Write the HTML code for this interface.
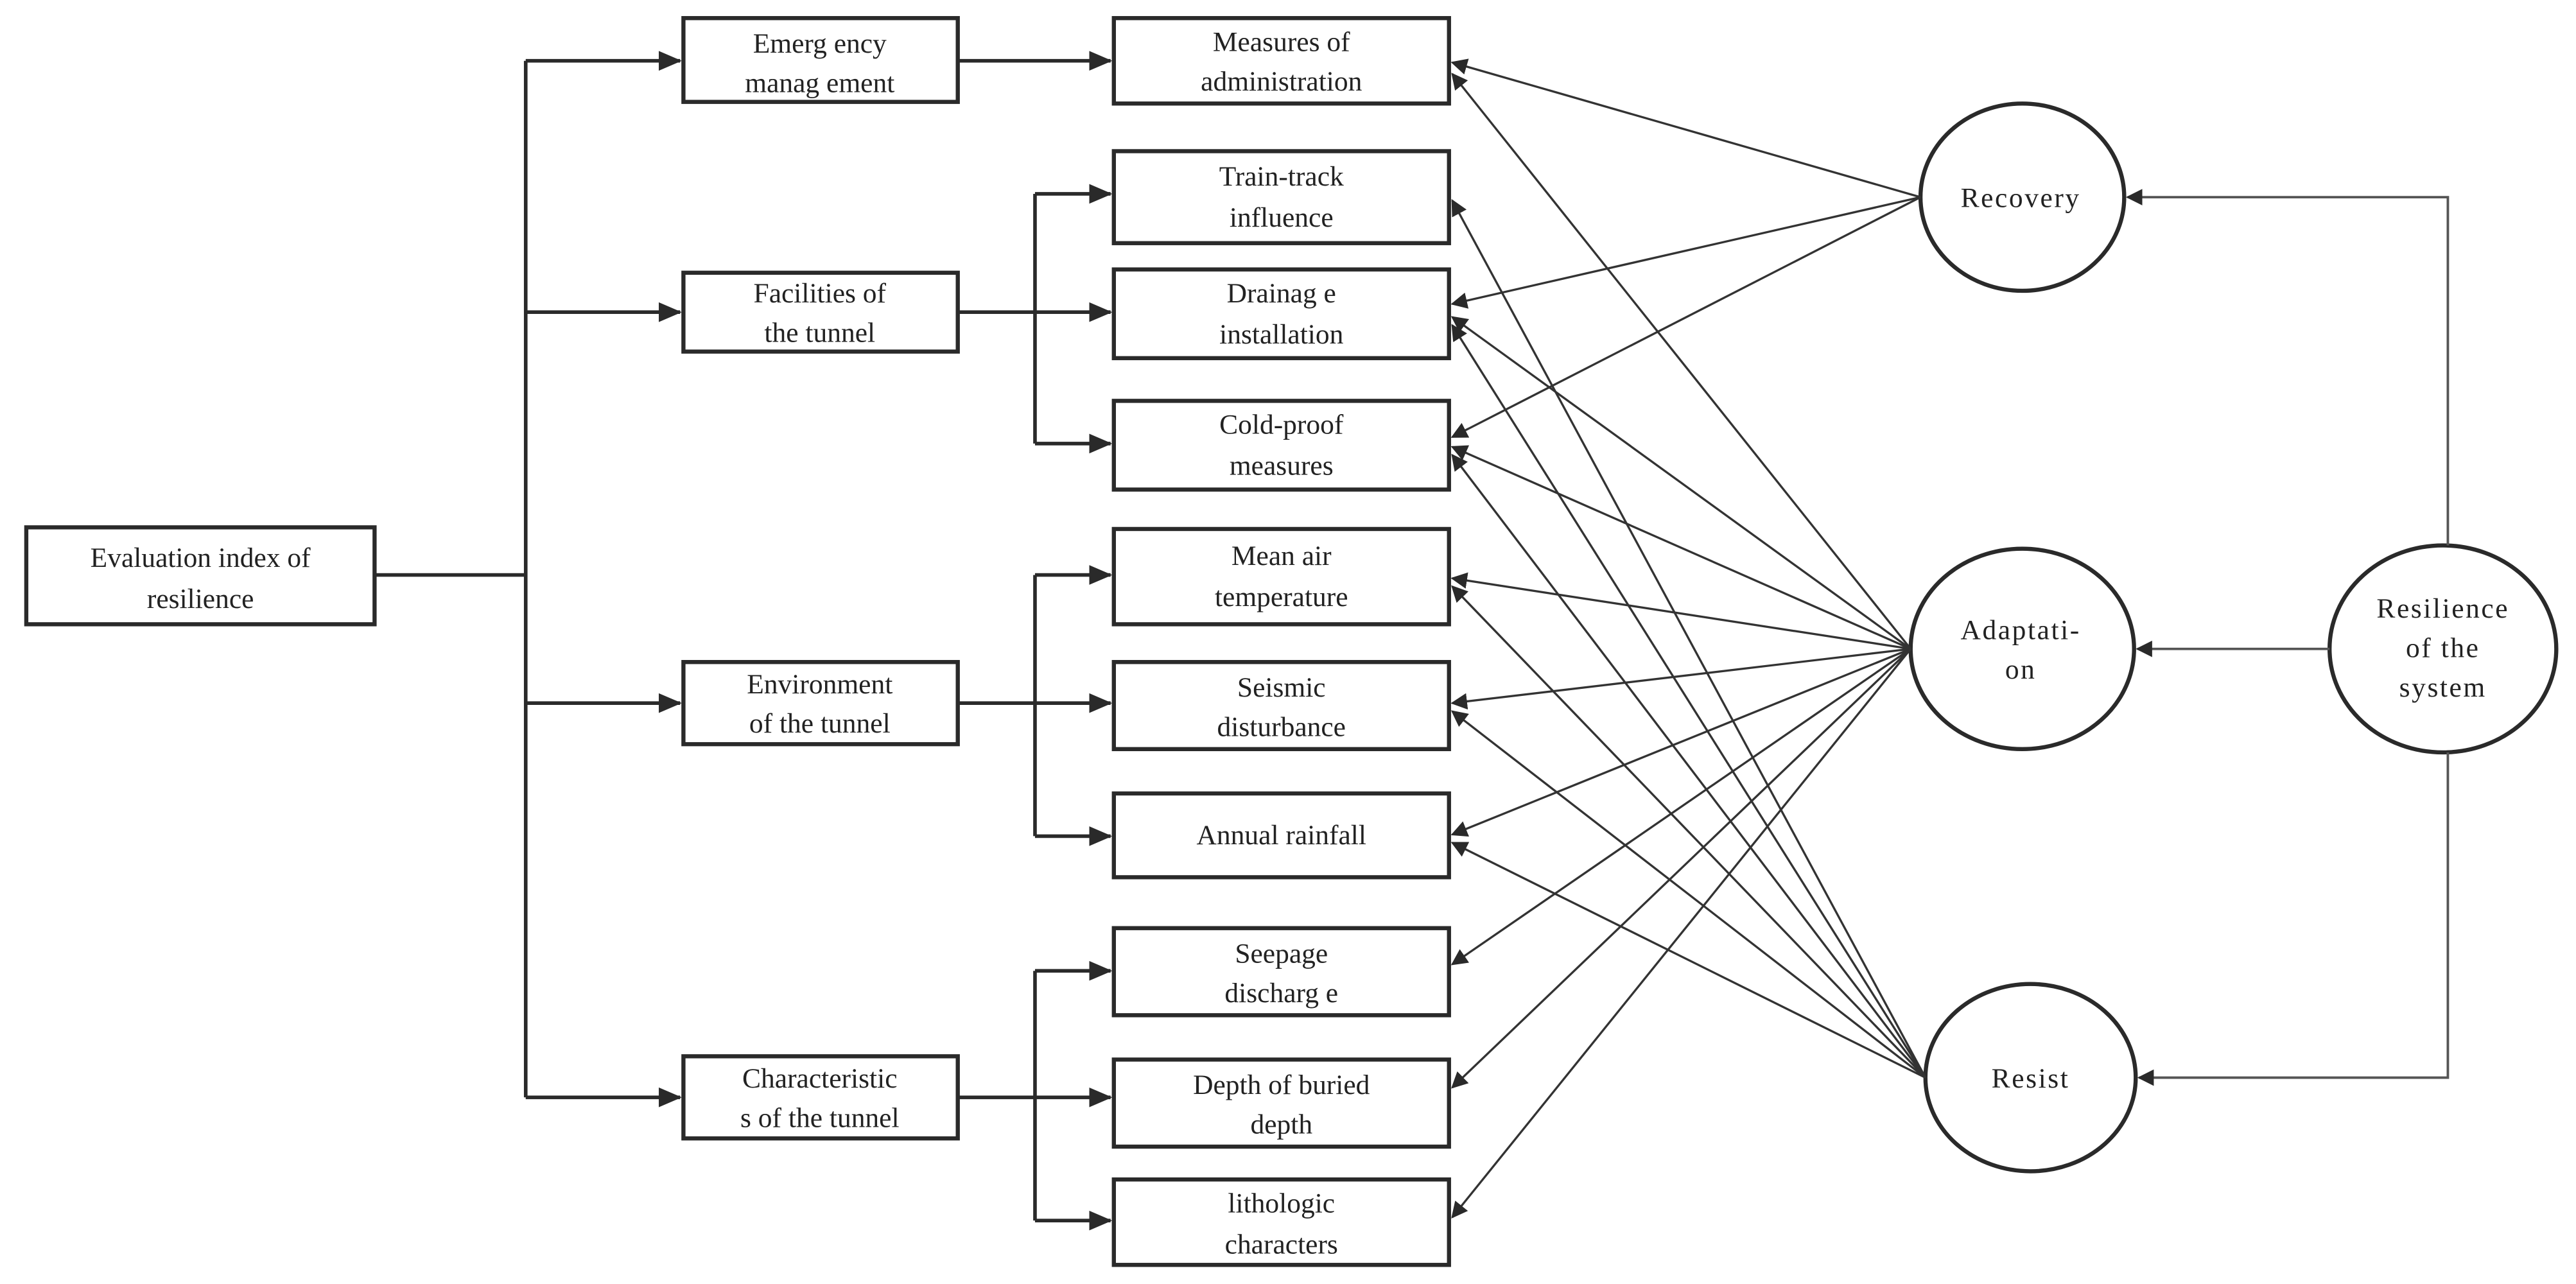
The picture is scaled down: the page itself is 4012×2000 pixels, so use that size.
<!DOCTYPE html>
<html><head><meta charset="utf-8"><style>
html,body{margin:0;padding:0;background:#fff;}
svg{display:block;}
text{font-family:"Liberation Serif",serif;fill:#222;}
</style></head><body>
<svg width="4012" height="2000" viewBox="0 0 1568 781.6" xmlns="http://www.w3.org/2000/svg">
<defs>
<marker id="a" markerWidth="10" markerHeight="10" refX="9" refY="5" orient="auto" markerUnits="userSpaceOnUse"><path d="M0,0 L10,5 L0,10 z" fill="#2a2a2a"/></marker>
<marker id="b" markerWidth="14" markerHeight="14" refX="13" refY="7" orient="auto" markerUnits="userSpaceOnUse"><path d="M0,1 L14,7 L0,13 z" fill="#2a2a2a"/></marker>
</defs>
<g stroke="#2a2a2a" stroke-width="2.5" fill="none">
<rect x="16" y="321" width="212" height="59"/>
<rect x="416" y="11" width="167" height="51"/>
<rect x="416" y="166" width="167" height="48"/>
<rect x="416" y="403" width="167" height="50"/>
<rect x="416" y="643" width="167" height="50"/>
<rect x="678" y="11" width="204" height="52"/>
<rect x="678" y="92" width="204" height="56"/>
<rect x="678" y="164" width="204" height="54"/>
<rect x="678" y="244" width="204" height="54"/>
<rect x="678" y="322" width="204" height="58"/>
<rect x="678" y="403" width="204" height="53"/>
<rect x="678" y="483" width="204" height="51"/>
<rect x="678" y="565" width="204" height="53"/>
<rect x="678" y="645" width="204" height="53"/>
<rect x="678" y="718" width="204" height="52"/>
<ellipse cx="1231" cy="120" rx="62" ry="57"/>
<ellipse cx="1231" cy="395" rx="68" ry="61"/>
<ellipse cx="1236" cy="656" rx="64" ry="57"/>
<ellipse cx="1487" cy="395" rx="69" ry="63"/>
</g>
<g stroke="#2a2a2a" stroke-width="2.2" fill="none">
<path d="M228,350 H320"/>
<path d="M320,37 V668"/>
<path d="M320,37 H414" marker-end="url(#b)"/>
<path d="M320,190 H414" marker-end="url(#b)"/>
<path d="M320,428 H414" marker-end="url(#b)"/>
<path d="M320,668 H414" marker-end="url(#b)"/>
<path d="M583,37 H676" marker-end="url(#b)"/>
<path d="M583,190 H676" marker-end="url(#b)"/>
<path d="M630,118 V270"/>
<path d="M630,118 H676" marker-end="url(#b)"/>
<path d="M630,270 H676" marker-end="url(#b)"/>
<path d="M583,428 H676" marker-end="url(#b)"/>
<path d="M630,350 V509"/>
<path d="M630,350 H676" marker-end="url(#b)"/>
<path d="M630,509 H676" marker-end="url(#b)"/>
<path d="M583,668 H676" marker-end="url(#b)"/>
<path d="M630,591 V743"/>
<path d="M630,591 H676" marker-end="url(#b)"/>
<path d="M630,743 H676" marker-end="url(#b)"/>
</g>
<g stroke="#333" stroke-width="1.3" fill="none">
<!-- Recovery -->
<line x1="1169" y1="120" x2="884" y2="38" marker-end="url(#a)"/>
<line x1="1169" y1="120" x2="884" y2="185" marker-end="url(#a)"/>
<line x1="1169" y1="120" x2="884" y2="266" marker-end="url(#a)"/>
<!-- Adaptation -->
<line x1="1163" y1="395" x2="884" y2="45" marker-end="url(#a)"/>
<line x1="1163" y1="395" x2="884" y2="193" marker-end="url(#a)"/>
<line x1="1163" y1="395" x2="884" y2="272" marker-end="url(#a)"/>
<line x1="1163" y1="395" x2="884" y2="352" marker-end="url(#a)"/>
<line x1="1163" y1="395" x2="884" y2="428" marker-end="url(#a)"/>
<line x1="1163" y1="395" x2="884" y2="508" marker-end="url(#a)"/>
<line x1="1163" y1="395" x2="884" y2="587" marker-end="url(#a)"/>
<line x1="1163" y1="395" x2="884" y2="662" marker-end="url(#a)"/>
<line x1="1163" y1="395" x2="884" y2="741" marker-end="url(#a)"/>
<!-- Resist -->
<line x1="1172" y1="656" x2="884" y2="122" marker-end="url(#a)"/>
<line x1="1172" y1="656" x2="884" y2="198" marker-end="url(#a)"/>
<line x1="1172" y1="656" x2="884" y2="277" marker-end="url(#a)"/>
<line x1="1172" y1="656" x2="884" y2="357" marker-end="url(#a)"/>
<line x1="1172" y1="656" x2="884" y2="433" marker-end="url(#a)"/>
<line x1="1172" y1="656" x2="884" y2="513" marker-end="url(#a)"/>
</g>
<g stroke="#555" stroke-width="1.5" fill="none">
<path d="M1490,332 V120 H1295" marker-end="url(#a)"/>
<path d="M1418,395 H1301" marker-end="url(#a)"/>
<path d="M1490,458 V656 H1302" marker-end="url(#a)"/>
</g>
<g font-size="17" text-anchor="middle">
<text x="122" y="345">Evaluation index of</text>
<text x="122" y="370">resilience</text>
<text x="499" y="32">Emerg ency</text>
<text x="499" y="56">manag ement</text>
<text x="499" y="184">Facilities of</text>
<text x="499" y="208">the tunnel</text>
<text x="499" y="422">Environment</text>
<text x="499" y="446">of the tunnel</text>
<text x="499" y="662">Characteristic</text>
<text x="499" y="686">s of the tunnel</text>
<text x="780" y="31">Measures of</text>
<text x="780" y="55">administration</text>
<text x="780" y="113">Train-track</text>
<text x="780" y="138">influence</text>
<text x="780" y="184">Drainag e</text>
<text x="780" y="209">installation</text>
<text x="780" y="264">Cold-proof</text>
<text x="780" y="289">measures</text>
<text x="780" y="344">Mean air</text>
<text x="780" y="369">temperature</text>
<text x="780" y="424">Seismic</text>
<text x="780" y="448">disturbance</text>
<text x="780" y="514">Annual rainfall</text>
<text x="780" y="586">Seepage</text>
<text x="780" y="610">discharg e</text>
<text x="780" y="666">Depth of buried</text>
<text x="780" y="690">depth</text>
<text x="780" y="738">lithologic</text>
<text x="780" y="763">characters</text>
<text x="1230" y="126" letter-spacing="1">Recovery</text>
<text x="1230" y="389" letter-spacing="1">Adaptati-</text>
<text x="1230" y="413" letter-spacing="1">on</text>
<text x="1236" y="662" letter-spacing="1">Resist</text>
<text x="1487" y="376" letter-spacing="1">Resilience</text>
<text x="1487" y="400" letter-spacing="1">of the</text>
<text x="1487" y="424" letter-spacing="1">system</text>
</g>
</svg>
</body></html>
